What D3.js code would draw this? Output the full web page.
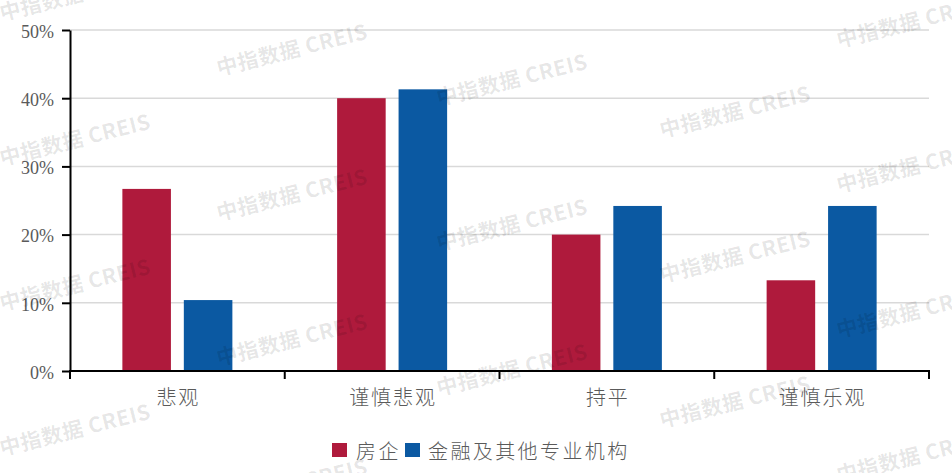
<!DOCTYPE html>
<html>
<head>
<meta charset="utf-8">
<script src="https://cdn.jsdelivr.net/npm/d3@7"></script>
<style>
  html, body { margin: 0; padding: 0; background: #ffffff; }
  svg { display: block; }
</style>
</head>
<body>
<svg id="chart" width="952" height="473"></svg>
<script>
const categories = ["悲观", "谨慎悲观", "持平", "谨慎乐观"];
const seriesNames = ["房企", "金融及其他专业机构"];
const seriesColors = ["#AF1A3C", "#0B59A2"];
const valuesFangqi = [26.7, 40.0, 20.0, 13.3];
const valuesJinrong = [10.4, 41.3, 24.2, 24.2];
const yTicks = [0, 10, 20, 30, 40, 50];
const watermarkText = "中指数据 CREIS";

(function () {
const seriesValues = [valuesFangqi, valuesJinrong];

const svg = d3.select("#chart");
const W = 952, H = 473;
const pLeft = 70, pRight = 929, pTop = 30, pBottom = 371;

const x0 = d3.scaleBand().domain(categories).range([pLeft, pRight]).paddingInner(0).paddingOuter(0);
const groupW = 110;
const x1 = d3.scaleBand().domain(seriesNames).range([-groupW / 2, groupW / 2]).paddingInner(0.21).paddingOuter(0);
const y = d3.scaleLinear().domain([0, 50]).range([pBottom, pTop]);

// watermarks (underneath)
const wmCols = [75, 292, 512, 735, 912];
const wmBase = [-5, 50, 80, 112, 22];

// gridlines
svg.append("g")
  .selectAll("line")
  .data(yTicks.filter(d => d > 0))
  .join("line")
  .attr("x1", pLeft).attr("x2", pRight)
  .attr("y1", d => y(d)).attr("y2", d => y(d))
  .attr("stroke", "#d9d9d9").attr("stroke-width", 1.5);

// bars
const groups = svg.append("g")
  .selectAll("g")
  .data(categories)
  .join("g")
  .attr("transform", d => `translate(${x0(d) + x0.bandwidth() / 2},0)`);

groups.selectAll("rect")
  .data((c, i) => seriesNames.map((s, j) => ({ s, j, v: seriesValues[j][i] })))
  .join("rect")
  .attr("x", d => x1(d.s))
  .attr("width", x1.bandwidth())
  .attr("y", d => y(d.v))
  .attr("height", d => y(0) - y(d.v))
  .attr("fill", d => seriesColors[d.j]);

// y axis
const yAxis = d3.axisLeft(y).tickValues(yTicks).tickFormat(d => d + "%").tickSize(8).tickSizeOuter(0);
const gy = svg.append("g").attr("transform", `translate(${pLeft},0)`).call(yAxis);
gy.select(".domain").attr("stroke", "#000").attr("stroke-width", 2);
gy.selectAll(".tick line").attr("stroke", "#000").attr("stroke-width", 2);
gy.selectAll(".tick text")
  .attr("x", -16)
  .attr("dy", "0.4em")
  .attr("fill", "#5a5a5a")
  .style("font-family", "'Liberation Serif', 'DejaVu Serif', serif")
  .style("font-size", "18px");

// x axis
const boundaries = categories.map(c => x0(c)).concat([pRight]);
const gx = svg.append("g");
gx.append("line")
  .attr("x1", pLeft - 1).attr("x2", pRight + 1)
  .attr("y1", pBottom).attr("y2", pBottom)
  .attr("stroke", "#000").attr("stroke-width", 2);
gx.selectAll("line.tk")
  .data(boundaries)
  .join("line")
  .attr("class", "tk")
  .attr("x1", d => d).attr("x2", d => d)
  .attr("y1", pBottom).attr("y2", pBottom + 8)
  .attr("stroke", "#000").attr("stroke-width", 2);
gx.selectAll("text")
  .data(categories)
  .join("text")
  .attr("x", d => x0(d) + x0.bandwidth() / 2 + 1)
  .attr("y", 405)
  .attr("text-anchor", "middle")
  .attr("fill", "#5a5a5a")
  .style("font-family", "'Noto Sans CJK SC', sans-serif")
  .style("font-weight", "300")
  .style("font-size", "20px")
  .style("letter-spacing", "2px")
  .text(d => d);

// legend
const legend = svg.append("g");
const legendItems = [
  { name: seriesNames[0], color: seriesColors[0], sx: 332, tx: 356 },
  { name: seriesNames[1], color: seriesColors[1], sx: 405, tx: 428 }
];
legendItems.forEach(it => {
  legend.append("rect")
    .attr("x", it.sx).attr("y", 443).attr("width", 15).attr("height", 14)
    .attr("fill", it.color);
  legend.append("text")
    .attr("x", it.tx).attr("y", 459)
    .attr("fill", "#5a5a5a")
    .style("font-family", "'Noto Sans CJK SC', sans-serif")
    .style("font-weight", "300")
    .style("font-size", "20px")
    .style("letter-spacing", "2.4px")
    .text(it.name);
});

// watermarks
const wm = svg.append("g").attr("pointer-events", "none");
wmCols.forEach((cx, i) => {
  for (let k = 0; k < 4; k++) {
    const cy = wmBase[i] + k * 145;
    if (cy > H + 30) continue;
    wm.append("text")
      .attr("transform", `translate(${cx},${cy}) rotate(-14)`)
      .attr("text-anchor", "middle")
      .attr("dy", "0.35em")
      .attr("fill", "rgba(0,0,0,0.10)")
      .style("font-family", "'Noto Sans CJK SC', sans-serif")
      .style("font-weight", "bold")
      .style("font-size", "21px")
      .style("letter-spacing", "0.5px")
      .text(watermarkText);
  }
});
})();
</script>
</body>
</html>
